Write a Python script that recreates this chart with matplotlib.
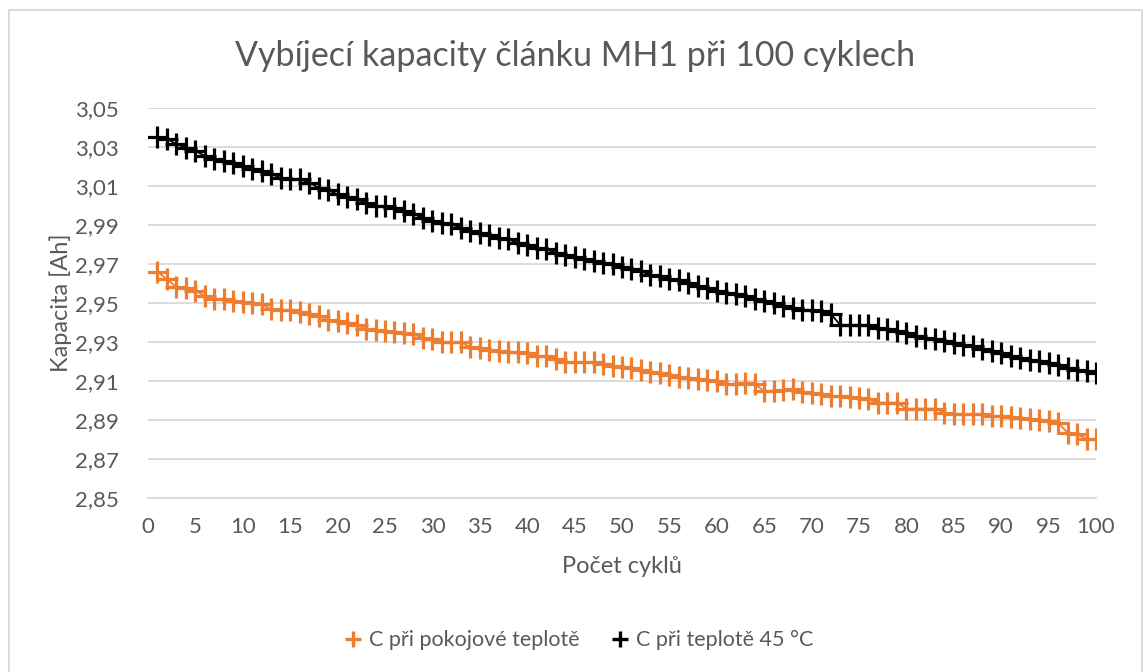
import matplotlib
matplotlib.use("Agg")
import matplotlib.pyplot as plt
from matplotlib.lines import Line2D
from matplotlib.patches import Rectangle
from matplotlib.ticker import FuncFormatter, FixedLocator

plt.rcParams['font.family'] = ['Lato', 'DejaVu Sans']

cycles = list(range(1, 101))

cap_room = [
    2.9661, 2.9621, 2.9582, 2.9579, 2.9562, 2.9536, 2.9522, 2.9519, 2.9510, 2.9505,
    2.9502, 2.9493, 2.9468, 2.9464, 2.9462, 2.9454, 2.9442, 2.9433, 2.9413, 2.9408,
    2.9399, 2.9385, 2.9368, 2.9362, 2.9358, 2.9351, 2.9346, 2.9341, 2.9321, 2.9315,
    2.9298, 2.9298, 2.9298, 2.9274, 2.9269, 2.9261, 2.9252, 2.9247, 2.9247, 2.9244,
    2.9230, 2.9226, 2.9213, 2.9196, 2.9196, 2.9196, 2.9196, 2.9189, 2.9178, 2.9174,
    2.9168, 2.9156, 2.9148, 2.9143, 2.9129, 2.9121, 2.9117, 2.9109, 2.9105, 2.9100,
    2.9083, 2.9083, 2.9091, 2.9083, 2.9049, 2.9049, 2.9054, 2.9057, 2.9044, 2.9040,
    2.9032, 2.9023, 2.9023, 2.9020, 2.9015, 2.9006, 2.8989, 2.8989, 2.8989, 2.8958,
    2.8958, 2.8958, 2.8958, 2.8938, 2.8929, 2.8929, 2.8929, 2.8929, 2.8921, 2.8921,
    2.8915, 2.8912, 2.8903, 2.8900, 2.8895, 2.8886, 2.8835, 2.8826, 2.8804, 2.8801,
]

cap_45 = [
    3.0353, 3.0342, 3.0314, 3.0297, 3.0280, 3.0254, 3.0237, 3.0228, 3.0220, 3.0203,
    3.0185, 3.0177, 3.0160, 3.0143, 3.0137, 3.0134, 3.0117, 3.0091, 3.0079, 3.0057,
    3.0045, 3.0031, 3.0014, 2.9997, 2.9996, 2.9989, 2.9972, 2.9955, 2.9938, 2.9921,
    2.9912, 2.9903, 2.9886, 2.9869, 2.9861, 2.9847, 2.9835, 2.9826, 2.9809, 2.9796,
    2.9784, 2.9775, 2.9758, 2.9744, 2.9738, 2.9724, 2.9715, 2.9707, 2.9698, 2.9685,
    2.9674, 2.9662, 2.9645, 2.9637, 2.9623, 2.9620, 2.9603, 2.9589, 2.9577, 2.9560,
    2.9551, 2.9548, 2.9534, 2.9521, 2.9509, 2.9500, 2.9486, 2.9474, 2.9466, 2.9462,
    2.9457, 2.9445, 2.9389, 2.9386, 2.9386, 2.9389, 2.9372, 2.9367, 2.9355, 2.9346,
    2.9329, 2.9321, 2.9315, 2.9303, 2.9295, 2.9286, 2.9278, 2.9264, 2.9252, 2.9244,
    2.9226, 2.9218, 2.9206, 2.9201, 2.9192, 2.9184, 2.9167, 2.9155, 2.9150, 2.9141,
]

x_ticks = list(range(0, 101, 5))
y_ticks = [2.85, 2.87, 2.89, 2.91, 2.93, 2.95, 2.97, 2.99, 3.01, 3.03, 3.05]

series_names = ["C při pokojové teplotě", "C při teplotě 45 °C"]
title = "Vybíjecí kapacity článku MH1 při 100 cyklech"
x_label = "Počet cyklů"
y_label = "Kapacita [Ah]"

ORANGE = "#ED7D31"
BLACK = "#000000"
TEXT = "#595959"
GRID = "#D9D9D9"

W, H = 1144, 672
fig = plt.figure(figsize=(W / 100, H / 100), dpi=100)
fig.patch.set_facecolor("white")

# chart-area frame
fig.add_artist(Rectangle((8.5 / W, -0.01), (1142 - 8.5) / W, 1 - 10 / H + 0.01,
                         transform=fig.transFigure, fill=False,
                         edgecolor=GRID, linewidth=1.3))

ax = fig.add_axes([148 / W, 1 - 498 / H, (1096 - 148) / W, (498 - 108) / H])

for vals, color in ((cap_room, ORANGE), (cap_45, BLACK)):
    ax.plot(cycles, vals, color=color, linewidth=1.3, marker="+",
            markersize=15.5, markeredgewidth=2.3, zorder=3)

ax.set_xlim(0, 100)
ax.set_ylim(2.85, 3.05)
ax.xaxis.set_major_locator(FixedLocator(x_ticks))
ax.yaxis.set_major_locator(FixedLocator(y_ticks))
ax.yaxis.set_major_formatter(FuncFormatter(lambda v, p: f"{v:.2f}".replace(".", ",")))

ax.grid(axis="y", color=GRID, linewidth=1.3)
ax.grid(axis="x", visible=False)
ax.set_axisbelow(True)
for side in ("top", "right", "left"):
    ax.spines[side].set_visible(False)
ax.spines["bottom"].set_color(GRID)
ax.spines["bottom"].set_linewidth(1.3)
ax.tick_params(axis="both", length=0, labelsize=16, labelcolor=TEXT)
ax.tick_params(axis="x", pad=14)
ax.tick_params(axis="y", pad=21)

ax.set_xlabel(x_label, fontsize=17, color=TEXT)
ax.set_ylabel(y_label, fontsize=17, color=TEXT)
ax.xaxis.set_label_coords(0.5, -(556 - 498) / 390)
ax.yaxis.set_label_coords(-(148 - 72) / 948, 0.5)

fig.text(575 / W, 1 - 56 / H, title, fontsize=24.5,
         color=TEXT, ha="center", va="center")

handles = [Line2D([], [], linestyle="none", marker="+", markersize=12,
                  markeredgewidth=2.4, color=c) for c in (ORANGE, BLACK)]
fig.legend(handles, series_names, loc="center", bbox_to_anchor=(580 / W, 1 - 640 / H),
           ncol=2, frameon=False, fontsize=15.5, labelcolor=TEXT,
           handlelength=0.6, handletextpad=0.45, columnspacing=1.6)

fig.savefig("out.png", dpi=100, facecolor="white")
